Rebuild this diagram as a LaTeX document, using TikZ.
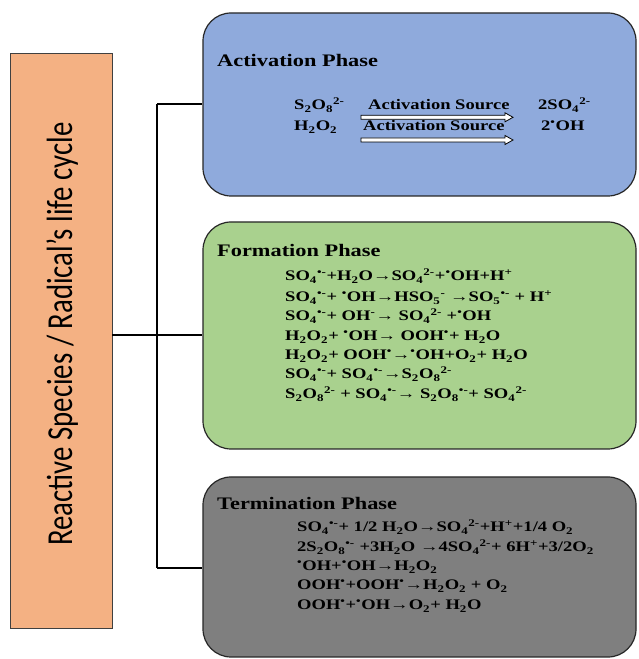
\documentclass[tikz,border=0pt]{standalone}
\usepackage{fontspec}
\usepackage{graphicx}
\setmainfont{Liberation Serif}
\newfontfamily\carlitofont{Carlito}
\newcommand{\subx}[1]{\textsubscript{#1}}
\newcommand{\supx}[1]{\textsuperscript{#1}}
\newcommand{\wide}[1]{\scalebox{1.27}[1]{#1}}
\definecolor{actblue}{HTML}{8FAADC}
\definecolor{formgreen}{HTML}{A9D18E}
\definecolor{termgrey}{HTML}{7F7F7F}
\definecolor{lifeorange}{HTML}{F4B183}
\tikzset{
  phasebox/.style={draw=black!85, line width=1.2pt, rounded corners=28pt,
    minimum width=433pt, inner sep=0pt},
  ttl/.style={anchor=base west, inner sep=0pt, font=\fontsize{17.6}{20}\selectfont\bfseries},
  eqn/.style={anchor=base west, inner sep=0pt, font=\fontsize{14.6}{18}\selectfont\bfseries},
  link/.style={line width=1.4pt, black},
  hollow/.style={fill=white, draw=black, line width=0.8pt}
}
\begin{document}
\begin{tikzpicture}[x=1pt,y=1pt]
\useasboundingbox (0,0) rectangle (638,659);
% main boxes
\node[draw=black!75, line width=0.9pt, fill=lifeorange, minimum width=102pt, minimum height=575pt, inner sep=0pt] (life) at (61,318.5) {};
\node[anchor=base, rotate=90, inner sep=0pt, font=\carlitofont\fontsize{28.8}{30}\selectfont] (lifetxt) at (72,325) {\scalebox{1}[1.27]{Reactive Species / Radical’s life cycle}};
\node[phasebox, fill=actblue, minimum height=183pt] (act) at (419.5,554.5) {};
\node[phasebox, fill=formgreen, minimum height=227pt] (form) at (419.5,323.5) {};
\node[phasebox, fill=termgrey, minimum height=180pt] (term) at (419.5,92) {};
% connectors
\coordinate (jA) at (157,555);
\coordinate (jB) at (157,324);
\coordinate (jC) at (157,91);
\draw[link] (jA) -- (jC);
\draw[link] (jA) -- (act.west |- jA);
\draw[link] (jB) -- (form.west |- jB);
\draw[link] (jC) -- (term.west |- jC);
\draw[link] (life.east |- jB) -- (jB);
% activation phase
\node[ttl] (actttl) at (217,592) {\wide{Activation Phase}};
\node[eqn] (a1l) at (294,549) {\wide{S\subx{2}O\subx{8}\supx{2-}}};
\node[eqn] (a1m) at (368,549) {\wide{Activation Source}};
\node[eqn] (a1r) at (538,549) {\wide{2SO\subx{4}\supx{2-}}};
\node[eqn] (a2l) at (294,528) {\wide{H\subx{2}O\subx{2}}};
\node[eqn] (a2m) at (363,528) {\wide{Activation Source}};
\node[eqn] (a2r) at (541,528) {\wide{2\supx{•}OH}};
\coordinate (ar1s) at (361,541.7);
\coordinate (ar2s) at (361,519);
\draw[hollow] (ar1s) ++(0,2) -- ++(144,0) -- ++(0,2.5) -- ++(8,-4.5) -- ++(-8,-4.5) -- ++(0,2.5) -- ++(-144,0) -- cycle;
\draw[hollow] (ar2s) ++(0,2) -- ++(144,0) -- ++(0,2.5) -- ++(8,-4.5) -- ++(-8,-4.5) -- ++(0,2.5) -- ++(-144,0) -- cycle;
% formation phase
\node[ttl] (formttl) at (217,402) {\wide{Formation Phase}};
\node[eqn] (f1) at (285,378) {\wide{SO\subx{4}\supx{•-}+H\subx{2}O→SO\subx{4}\supx{2-}+\supx{•}OH+H\supx{+}}};
\node[eqn] (f2) at (285,357) {\wide{SO\subx{4}\supx{•-}+ \supx{•}OH→HSO\subx{5}\supx{-} →SO\subx{5}\supx{•-} + H\supx{+}}};
\node[eqn] (f3) at (285,338) {\wide{SO\subx{4}\supx{•-}+ OH\supx{-}→ SO\subx{4}\supx{2-} +\supx{•}OH}};
\node[eqn] (f4) at (285,318) {\wide{H\subx{2}O\subx{2}+ \supx{•}OH→ OOH\supx{•}+ H\subx{2}O}};
\node[eqn] (f5) at (285,299) {\wide{H\subx{2}O\subx{2}+ OOH\supx{•}→\supx{•}OH+O\subx{2}+ H\subx{2}O}};
\node[eqn] (f6) at (285,280) {\wide{SO\subx{4}\supx{•-}+ SO\subx{4}\supx{•-}→S\subx{2}O\subx{8}\supx{2-}}};
\node[eqn] (f7) at (285,260) {\wide{S\subx{2}O\subx{8}\supx{2-} + SO\subx{4}\supx{•-}→ S\subx{2}O\subx{8}\supx{•-}+ SO\subx{4}\supx{2-}}};
% termination phase
\node[ttl] (termttl) at (217,149) {\wide{Termination Phase}};
\node[eqn] (t1) at (297,127) {\wide{SO\subx{4}\supx{•-}+ 1/2 H\subx{2}O→SO\subx{4}\supx{2-}+H\supx{+}+1/4 O\subx{2}}};
\node[eqn] (t2) at (297,107) {\wide{2S\subx{2}O\subx{8}\supx{•-} +3H\subx{2}O →4SO\subx{4}\supx{2-}+ 6H\supx{+}+3/2O\subx{2}}};
\node[eqn] (t3) at (297,88) {\wide{\supx{•}OH+\supx{•}OH→H\subx{2}O\subx{2}}};
\node[eqn] (t4) at (297,69) {\wide{OOH\supx{•}+OOH\supx{•}→H\subx{2}O\subx{2} + O\subx{2}}};
\node[eqn] (t5) at (297,49) {\wide{OOH\supx{•}+\supx{•}OH→O\subx{2}+ H\subx{2}O}};
\end{tikzpicture}
\end{document}
